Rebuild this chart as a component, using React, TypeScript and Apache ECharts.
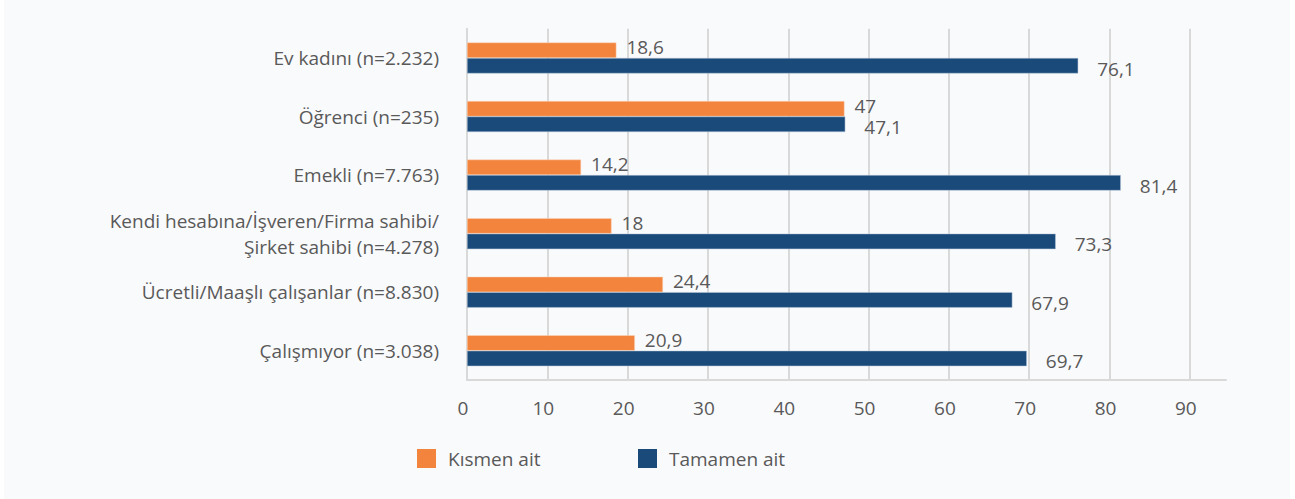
import React, { useEffect, useRef } from "react";
import * as echarts from "echarts";

const categories = [
  "Ev kadını (n=2.232)",
  "Öğrenci (n=235)",
  "Emekli (n=7.763)",
  "Kendi hesabına/İşveren/Firma sahibi/\nŞirket sahibi (n=4.278)",
  "Ücretli/Maaşlı çalışanlar (n=8.830)",
  "Çalışmıyor (n=3.038)",
];
const kismenAit = [18.6, 47, 14.2, 18, 24.4, 20.9];
const tamamenAit = [76.1, 47.1, 81.4, 73.3, 67.9, 69.7];
const seriesNames = ["Kısmen ait", "Tamamen ait"];

const FONT = "Open Sans";
const TEXT = "#595959";
const FS = 19;

export default function App() {
  const ref = useRef<HTMLDivElement>(null);
  useEffect(() => {
    if (!ref.current) return;
    const chart = echarts.init(ref.current, undefined, { renderer: "svg" });
    const fmt = (p: any) => String(p.value).replace(".", ",");
    const legendBase = {
      top: 449,
      padding: 0,
      icon: "rect",
      itemWidth: 19,
      itemHeight: 19,
      itemStyle: { borderWidth: 0 },
      textStyle: { color: TEXT, fontSize: FS, fontFamily: FONT, padding: [0, 0, 0, 7] },
    };
    chart.setOption({
      animation: false,
      textStyle: { fontFamily: FONT },
      graphic: [
        {
          type: "rect",
          z: -10,
          silent: true,
          shape: { x: 4, y: 0, width: 1286, height: 499 },
          style: { fill: "#f9fafc" },
        },
      ],
      grid: { left: 467, right: 69, top: 28.7, bottom: 119 },
      legend: [
        { ...legendBase, left: 417, data: [seriesNames[0]] },
        { ...legendBase, left: 638, data: [seriesNames[1]] },
      ],
      xAxis: {
        type: "value",
        min: 0,
        max: 94.5,
        interval: 10,
        axisLine: { show: true, lineStyle: { color: "#d9d9d9", width: 2 } },
        axisTick: { show: false },
        axisLabel: {
          color: TEXT,
          fontSize: FS,
          fontFamily: FONT,
          margin: 18,
          showMaxLabel: false,
          padding: [0, 8, 0, 0],
        },
        splitLine: { show: true, showMaxLine: false, lineStyle: { color: "#d9d9d9", width: 2 } },
      },
      yAxis: {
        type: "category",
        inverse: true,
        data: categories,
        axisLine: { show: true, lineStyle: { color: "#d9d9d9", width: 2 } },
        axisTick: { show: false },
        axisLabel: {
          color: TEXT,
          fontSize: FS,
          fontFamily: FONT,
          margin: 28,
          lineHeight: 26,
          align: "right",
        },
      },
      series: [
        {
          name: seriesNames[0],
          type: "bar",
          data: kismenAit,
          barWidth: 15.5,
          barGap: "0%",
          itemStyle: { color: "#f3843d", borderColor: "#fbd9c2", borderWidth: 0.5 },
          label: {
            show: true,
            position: "right",
            distance: 10,
            offset: [0, -3],
            color: TEXT,
            fontSize: FS,
            fontFamily: FONT,
            formatter: fmt,
          },
        },
        {
          name: seriesNames[1],
          type: "bar",
          data: tamamenAit,
          barWidth: 15.5,
          barGap: "0%",
          itemStyle: { color: "#1a4a7a", borderColor: "#b9c9da", borderWidth: 0.5 },
          label: {
            show: true,
            position: "right",
            distance: 19,
            offset: [0, 3],
            color: TEXT,
            fontSize: FS,
            fontFamily: FONT,
            formatter: fmt,
          },
        },
      ],
    });
    return () => chart.dispose();
  }, []);
  return (
    <div
      ref={ref}
      style={{ position: "absolute", left: 0, top: 0, width: 1295, height: 499, background: "#ffffff" }}
    />
  );
}
